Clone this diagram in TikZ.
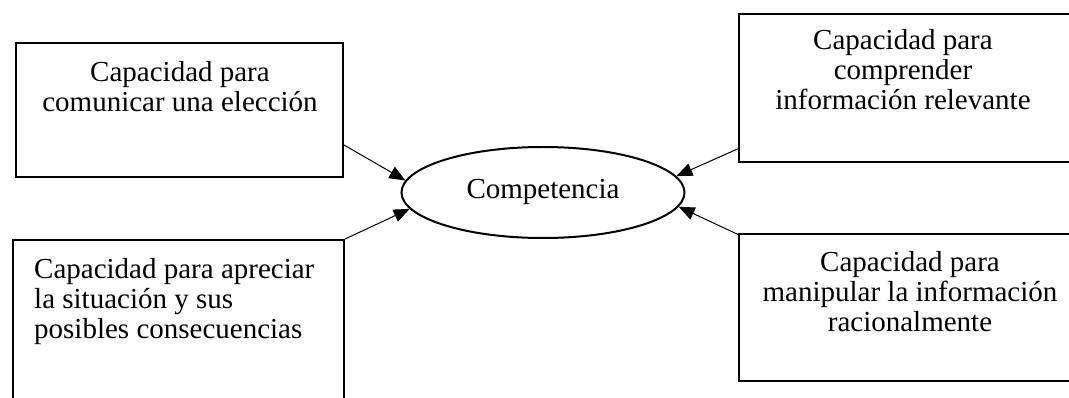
\documentclass[tikz,border=0pt]{standalone}
\usepackage{fontspec}
\setmainfont{Liberation Serif}
\usetikzlibrary{arrows.meta,shapes.geometric}
\begin{document}
\begin{tikzpicture}[x=1pt,y=-1pt,
  box/.style={draw, line width=2pt, rectangle, inner sep=0pt},
  txt/.style={font=\fontsize{29}{30}\selectfont, inner sep=0pt, align=center, anchor=base},
  core/.style={draw, line width=2pt, ellipse, inner sep=0pt,
    minimum width=283pt, minimum height=91pt},
  link/.style={line width=1pt, -{Triangle[length=16pt,width=13pt]}}]
\useasboundingbox (0,0) rectangle (1069,398);

% frames of the four abilities
\node[box, minimum width=327pt, minimum height=134pt] (b1) at (179.5,110) {};
\node[box, minimum width=332pt, minimum height=148pt] (b2) at (905,88) {};
\node[box, minimum width=331pt, minimum height=180pt] (b3) at (178.5,330) {};
\node[box, minimum width=342pt, minimum height=147pt] (b4) at (910,307.5) {};

% their texts (anchored on the baseline of the last line)
\node[txt] (t1) at (180,112) {Capacidad para\\comunicar una elección};
\node[txt] (t2) at (903,110) {Capacidad para\\comprender\\información relevante};
\node[txt, align=left, anchor=base west] (t3) at (34,338)
  {Capacidad para apreciar\\la situación y sus\\posibles consecuencias};
\node[txt] (t4) at (910,331) {Capacidad para\\manipular la información\\racionalmente};

% central concept
\node[core] (c) at (543,192.5) {};
\node[txt] (tc) at (543,199) {Competencia};

% connectors towards the centre
\draw[link] (b1.-12.75) -- (c.175.5);
\draw[link] (b3.north east) -- (c.-173.7);
\draw[link] (b2.-160.1) -- (c.7.5);
\draw[link] (b4.157.9) -- (c.-6.7);
\end{tikzpicture}
\end{document}
